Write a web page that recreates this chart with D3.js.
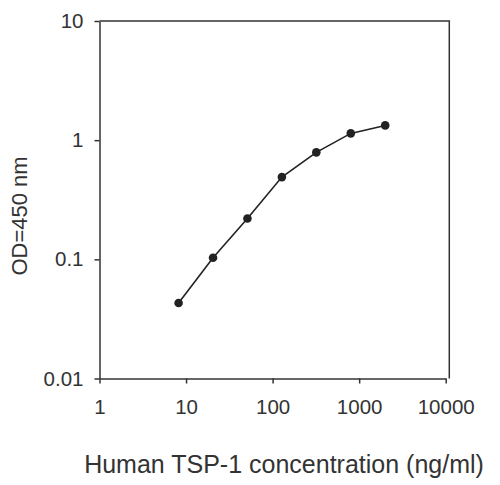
<!DOCTYPE html>
<html>
<head>
<meta charset="utf-8">
<script src="https://cdn.jsdelivr.net/npm/d3@7"></script>
<style>
  body { margin: 0; background: #fff; }
  svg text { font-family: Arial, "Liberation Sans", sans-serif; fill: #333; }
</style>
</head>
<body>
<svg id="chart" width="500" height="485"></svg>
<script>
// TSP-1 standard curve, 2.5-fold dilutions
const concentration = [8.2, 20.5, 51.2, 128, 320, 800, 2000];
const od450 = [0.043, 0.103, 0.22, 0.49, 0.79, 1.14, 1.33];
const xTicks = [1, 10, 100, 1000, 10000];
const yTicks = [0.01, 0.1, 1, 10];

const svg = d3.select('#chart');
const axisColor = '#333';

const x = d3.scaleLog().domain([1, 10000]).range([99.5, 445.7]);
const y = d3.scaleLog().domain([0.01, 10]).range([378.5, 21]);

// frame (top + right), right edge sits a bit past the last x tick
const frameRight = 449.3;
svg.append('path')
  .attr('d', `M${x(1)},${y(10)}H${frameRight}V${y(0.01)}`)
  .attr('fill', 'none')
  .attr('stroke', axisColor)
  .attr('stroke-width', 1.5);

const xAxis = svg.append('g')
  .attr('transform', `translate(0,${y(0.01)})`)
  .call(d3.axisBottom(x).tickValues(xTicks).tickFormat(d3.format('d')).tickSize(5).tickSizeOuter(0).tickPadding(16));
xAxis.select('.domain').attr('stroke', axisColor).attr('stroke-width', 1.5);
xAxis.selectAll('.tick line').attr('stroke', axisColor).attr('stroke-width', 1.5);
xAxis.selectAll('.tick text').attr('font-size', 20.5).attr('fill', '#333');

const yAxis = svg.append('g')
  .attr('transform', `translate(${x(1)},0)`)
  .call(d3.axisLeft(y).tickValues(yTicks).tickFormat(d => d < 1 ? d3.format('')(d) : d3.format('d')(d)).tickSize(5).tickSizeOuter(0).tickPadding(11));
yAxis.select('.domain').attr('stroke', axisColor).attr('stroke-width', 1.5);
yAxis.selectAll('.tick line').attr('stroke', axisColor).attr('stroke-width', 1.5);
yAxis.selectAll('.tick text').attr('font-size', 20.5).attr('fill', '#333');

// curve
const line = d3.line()
  .x((d, i) => x(concentration[i]))
  .y(d => y(d));

svg.append('path')
  .datum(od450)
  .attr('d', line)
  .attr('fill', 'none')
  .attr('stroke', '#222')
  .attr('stroke-width', 1.6);

svg.append('g')
  .selectAll('circle')
  .data(od450)
  .join('circle')
    .attr('cx', (d, i) => x(concentration[i]))
    .attr('cy', d => y(d))
    .attr('r', 4.3)
    .attr('fill', '#222');

// titles
svg.append('text')
  .attr('x', 284)
  .attr('y', 473)
  .attr('text-anchor', 'middle')
  .attr('font-size', 25)
  .text('Human TSP-1 concentration (ng/ml)');

svg.append('text')
  .attr('transform', 'translate(27,216) rotate(-90)')
  .attr('text-anchor', 'middle')
  .attr('font-size', 22)
  .text('OD=450 nm');
</script>
</body>
</html>
